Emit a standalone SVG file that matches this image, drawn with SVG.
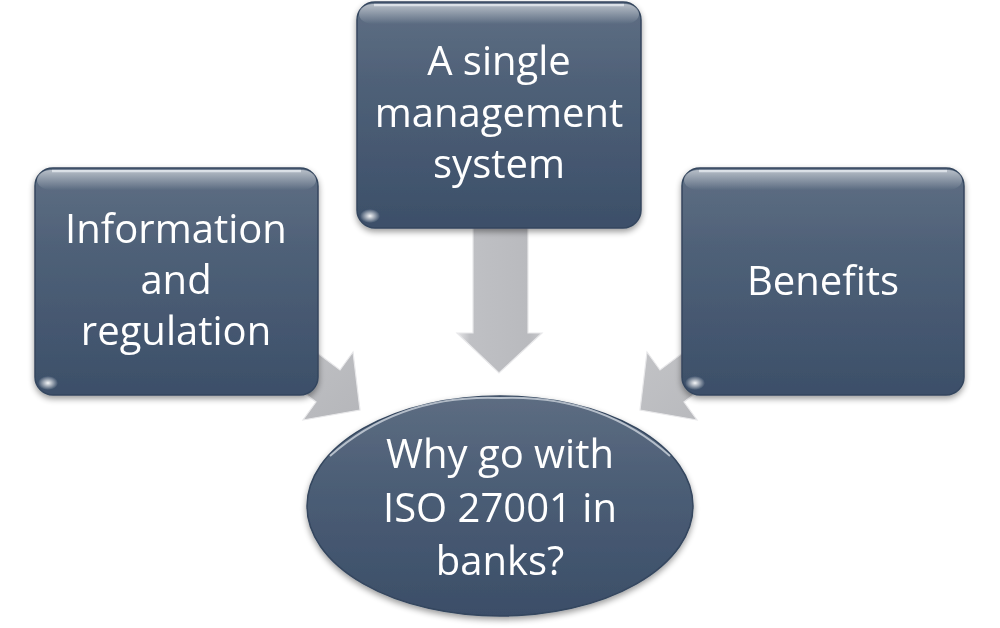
<svg xmlns="http://www.w3.org/2000/svg" width="1000" height="628" viewBox="0 0 1000 628">
<defs>
<linearGradient id="boxFill" x1="0" y1="0" x2="0" y2="1">
<stop offset="0" stop-color="#5f6f84"/>
<stop offset="0.35" stop-color="#4f6178"/>
<stop offset="1" stop-color="#3c4f69"/>
</linearGradient>
<linearGradient id="ellFill" x1="0" y1="0" x2="0" y2="1">
<stop offset="0" stop-color="#5d6d82"/>
<stop offset="0.4" stop-color="#4c5e76"/>
<stop offset="1" stop-color="#3b4e68"/>
</linearGradient>
<linearGradient id="gloss" x1="0" y1="0" x2="0" y2="1">
<stop offset="0" stop-color="#ffffff" stop-opacity="0.55"/>
<stop offset="1" stop-color="#ffffff" stop-opacity="0"/>
</linearGradient>
<radialGradient id="spot" cx="0.5" cy="0.5" r="0.5">
<stop offset="0" stop-color="#ffffff" stop-opacity="0.95"/>
<stop offset="1" stop-color="#ffffff" stop-opacity="0"/>
</radialGradient>
<linearGradient id="arrowV" x1="0" y1="0" x2="1" y2="0">
<stop offset="0" stop-color="#e6e6e8"/>
<stop offset="0.15" stop-color="#bfc0c4"/>
<stop offset="0.85" stop-color="#b9babe"/>
<stop offset="1" stop-color="#c8c9cc"/>
</linearGradient>
<linearGradient id="arrowD" x1="0" y1="0" x2="1" y2="1">
<stop offset="0" stop-color="#c4c5c8"/>
<stop offset="1" stop-color="#b5b6ba"/>
</linearGradient>
<filter id="shadow" x="-10%" y="-10%" width="120%" height="125%">
<feGaussianBlur in="SourceAlpha" stdDeviation="3"/>
<feOffset dx="0" dy="3" result="b"/>
<feComponentTransfer><feFuncA type="linear" slope="0.4"/></feComponentTransfer>
<feMerge><feMergeNode/><feMergeNode in="SourceGraphic"/></feMerge>
</filter>
<style>
.box{fill:url(#boxFill);stroke:#34465e;stroke-width:1.5}
.ell{fill:url(#ellFill);stroke:#34465e;stroke-width:1.5}
.rim{fill:none;stroke:#c9d3df;stroke-width:2.5;stroke-opacity:0.8}
.lbl{font-family:"Open Sans",Lato,"Liberation Sans",sans-serif;font-size:40px;fill:#ffffff;text-anchor:middle;font-variant-ligatures:none}
.arr{stroke:#e8e8ea;stroke-width:1.2;stroke-linejoin:miter}
</style>
</defs>
<rect width="1000" height="628" fill="#ffffff"/>
<g id="connectors">
<path class="arr" fill="url(#arrowV)" d="M473,222 L528,222 L528,333 L542,333 L499,373 L457,333 L473,333 Z"/>
<path class="arr" fill="url(#arrowD)" d="M276,322 L340,370 L353,352 L360,410 L303,420 L316,402 L252,354 Z"/>
<path class="arr" fill="url(#arrowD)" d="M724,322 L660,370 L647,352 L640,410 L697,420 L684,402 L748,354 Z"/>
</g>
<g id="node-left" filter="url(#shadow)">
<rect class="box" x="35" y="168" width="283" height="227" rx="18"/>
<path class="rim" d="M52,171 L301,171"/>
<rect x="37" y="170" width="279" height="20" rx="14" fill="url(#gloss)"/>
<ellipse cx="48" cy="383" rx="10" ry="7" fill="url(#spot)"/>
<text class="lbl" x="176" y="243">Information</text>
<text class="lbl" x="176" y="294">and</text>
<text class="lbl" x="176" y="345">regulation</text>
</g>
<g id="node-middle" filter="url(#shadow)">
<rect class="box" x="357" y="2" width="284" height="226" rx="18"/>
<path class="rim" d="M374,5 L624,5"/>
<rect x="359" y="4" width="280" height="20" rx="14" fill="url(#gloss)"/>
<ellipse cx="370" cy="216" rx="10" ry="7" fill="url(#spot)"/>
<text class="lbl" x="499" y="75">A single</text>
<text class="lbl" x="499" y="127">management</text>
<text class="lbl" x="499" y="178">system</text>
</g>
<g id="node-right" filter="url(#shadow)">
<rect class="box" x="682" y="168" width="282" height="227" rx="18"/>
<path class="rim" d="M699,171 L947,171"/>
<rect x="684" y="170" width="278" height="20" rx="14" fill="url(#gloss)"/>
<ellipse cx="695" cy="383" rx="10" ry="7" fill="url(#spot)"/>
<text class="lbl" x="823" y="295">Benefits</text>
</g>
<g id="node-center" filter="url(#shadow)">
<ellipse class="ell" cx="500" cy="506" rx="193" ry="110"/>
<path d="M330,456 Q400,394 500,398 Q600,394 670,456" fill="none" stroke="#dfe5ec" stroke-width="2" stroke-opacity="0.7"/>
<text class="lbl" x="500" y="468">Why go with</text>
<text class="lbl" x="500" y="522">ISO 27001 in</text>
<text class="lbl" x="500" y="575">banks?</text>
</g>
</svg>
